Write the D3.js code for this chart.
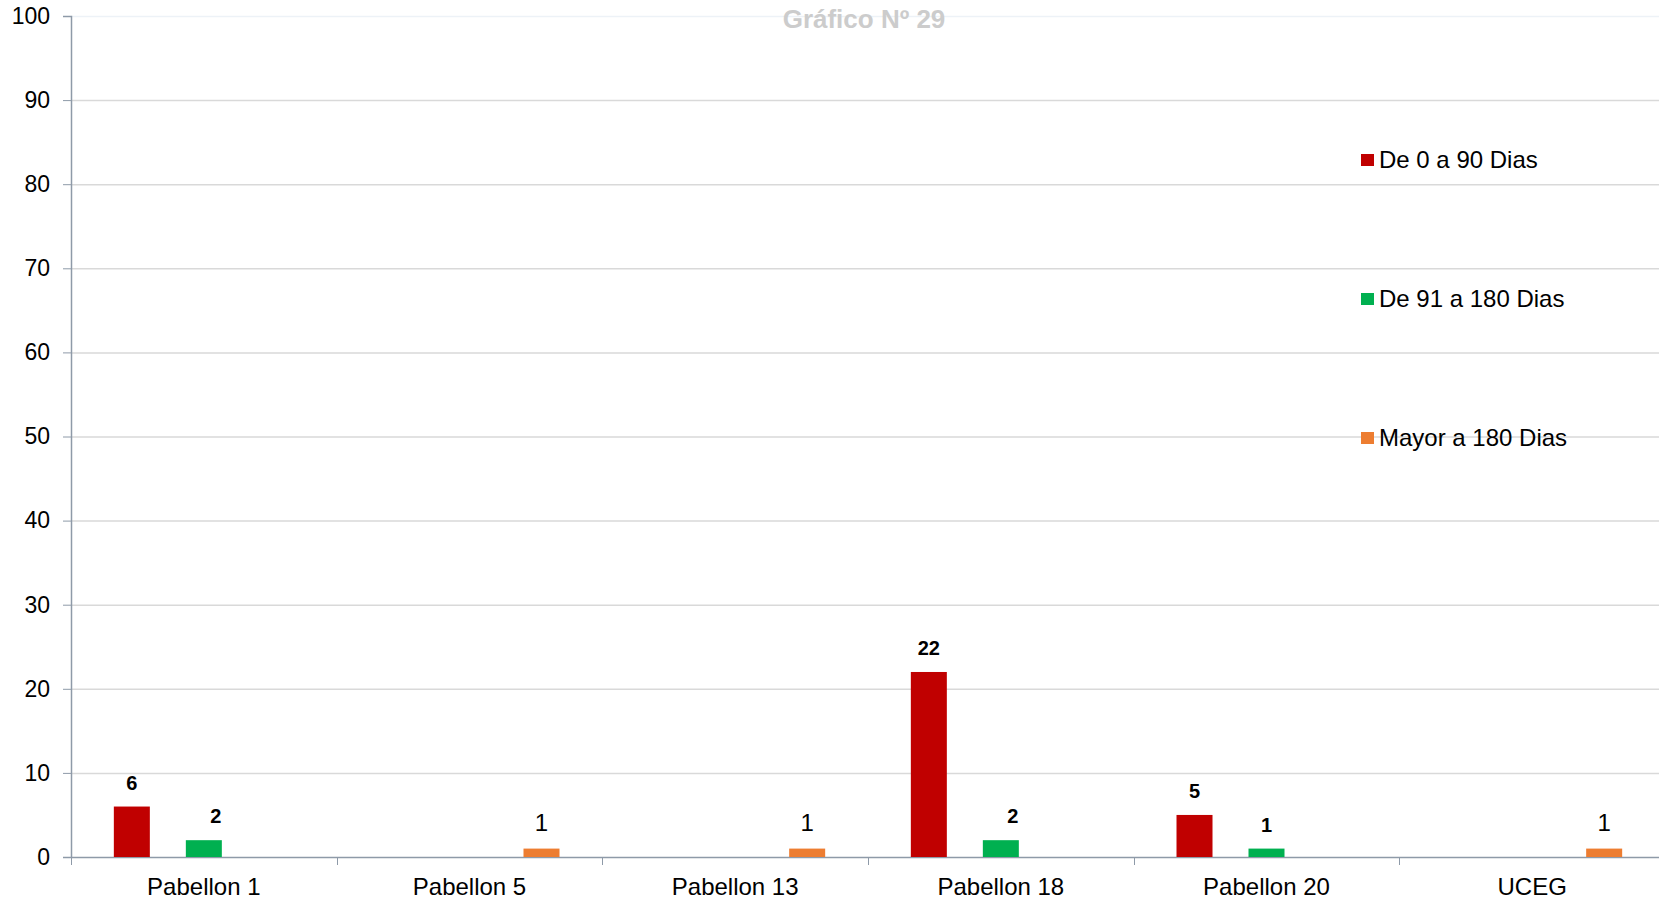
<!DOCTYPE html>
<html>
<head>
<meta charset="utf-8">
<script src="https://cdn.jsdelivr.net/npm/d3@7"></script>
<style>
  body { margin: 0; background: #fff; }
  text { font-family: Arial, "Liberation Sans", sans-serif; }
</style>
</head>
<body>
<div id="chart"></div>
<script>
var categories = ["Pabellon 1", "Pabellon 5", "Pabellon 13", "Pabellon 18", "Pabellon 20", "UCEG"];
var seriesNames = ["De 0 a 90 Dias", "De 91 a 180 Dias", "Mayor a 180 Dias"];
var seriesColors = ["#c00000", "#00b050", "#ed7d31"];
var dias0a90 = [6, 0, 0, 22, 5, 0];
var dias91a180 = [2, 0, 0, 2, 1, 0];
var mayor180 = [0, 1, 1, 0, 0, 1];
var yTicks = [0, 10, 20, 30, 40, 50, 60, 70, 80, 90, 100];

var seriesValues = [dias0a90, dias91a180, mayor180];
var W = 1659, H = 899;
var plotLeft = 71, plotRight = 1665, plotTop = 16, plotBottom = 857;

var svg = d3.select('#chart')
  .append('svg')
    .attr('width', W)
    .attr('height', H)
    .style('display', 'block');

var x0 = d3.scaleBand()
  .domain(categories)
  .range([plotLeft, plotRight])
  .padding(0);

var x1 = d3.scaleBand()
  .domain(seriesNames)
  .range([0, x0.bandwidth()])
  .paddingInner(0.5)
  .paddingOuter(0.595);

var y = d3.scaleLinear()
  .domain([0, 100])
  .range([plotBottom, plotTop]);

// gridlines
svg.append('g')
  .selectAll('line')
  .data(yTicks.filter(function(d) { return d > 0; }))
  .enter()
  .append('line')
    .attr('x1', plotLeft)
    .attr('x2', W)
    .attr('y1', function(d) { return y(d) + 0.5; })
    .attr('y2', function(d) { return y(d) + 0.5; })
    .attr('stroke', function(d) { return d == 100 ? '#edf2f7' : '#d9d9d9'; })
    .attr('stroke-width', 1.5);

// title
svg.append('text')
  .attr('x', 864)
  .attr('y', 28)
  .attr('text-anchor', 'middle')
  .style('font-size', '26px')
  .style('font-weight', 'bold')
  .attr('fill', '#cccccc')
  .text('Gráfico Nº 29');

// y axis
var yAxis = svg.append('g')
  .attr('transform', 'translate(' + plotLeft + ',0)')
  .call(d3.axisLeft(y).tickValues(yTicks).tickSize(8).tickPadding(13));
yAxis.select('.domain').attr('stroke', '#8e9aa8').attr('stroke-width', 1.5);
yAxis.selectAll('.tick line').attr('stroke', '#8e9aa8');
yAxis.selectAll('text')
  .style('font-size', '23px')
  .style('font-family', 'Arial, "Liberation Sans", sans-serif')
  .attr('fill', '#000');

// x axis
var xAxis = svg.append('g')
  .attr('transform', 'translate(0,' + plotBottom + ')')
  .call(d3.axisBottom(x0).tickSize(0).tickPadding(21));
xAxis.select('.domain').attr('stroke', '#8e9aa8').attr('stroke-width', 1.5);
xAxis.selectAll('text')
  .style('font-size', '24px')
  .style('font-family', 'Arial, "Liberation Sans", sans-serif')
  .attr('fill', '#000');

// category separator ticks
svg.append('g')
  .selectAll('line')
  .data(categories)
  .enter()
  .append('line')
    .attr('x1', function(d) { return Math.round(x0(d)) + 0.5; })
    .attr('x2', function(d) { return Math.round(x0(d)) + 0.5; })
    .attr('y1', plotBottom)
    .attr('y2', plotBottom + 8)
    .attr('stroke', '#8e9aa8');

// bars and labels
seriesNames.forEach(function(name, i) {
  var data = categories.map(function(c, j) { return {cat: c, v: seriesValues[i][j]}; })
    .filter(function(d) { return d.v > 0; });

  svg.selectAll('bar' + i)
    .data(data)
    .enter()
    .append('rect')
      .attr('x', function(d) { return x0(d.cat) + x1(name); })
      .attr('y', function(d) { return y(d.v); })
      .attr('width', x1.bandwidth())
      .attr('height', function(d) { return plotBottom - y(d.v); })
      .attr('fill', seriesColors[i]);

  // green labels sit a little right of their bars in the original
  svg.selectAll('lab' + i)
    .data(data)
    .enter()
    .append('text')
      .attr('x', function(d) { return x0(d.cat) + x1(name) + x1.bandwidth() / 2 + (i == 1 && d.v > 1 ? 12 : 0); })
      .attr('y', function(d) { return y(d.v) - (i == 2 ? 18 : 17); })
      .attr('text-anchor', 'middle')
      .style('font-size', i == 2 ? '24px' : '20px')
      .style('font-weight', i == 2 ? 'normal' : 'bold')
      .attr('fill', '#000')
      .text(function(d) { return d.v; });
});

// legend
var legend = svg.append('g')
  .selectAll('g')
  .data(seriesNames)
  .enter()
  .append('g')
    .attr('transform', function(d, i) { return 'translate(1361,' + (154 + i * 139) + ')'; });

legend.append('rect')
  .attr('width', 13)
  .attr('height', 12)
  .attr('fill', function(d, i) { return seriesColors[i]; });

legend.append('text')
  .attr('x', 18)
  .attr('y', 14)
  .style('font-size', '24px')
  .attr('fill', '#000')
  .text(function(d) { return d; });
</script>
</body>
</html>
